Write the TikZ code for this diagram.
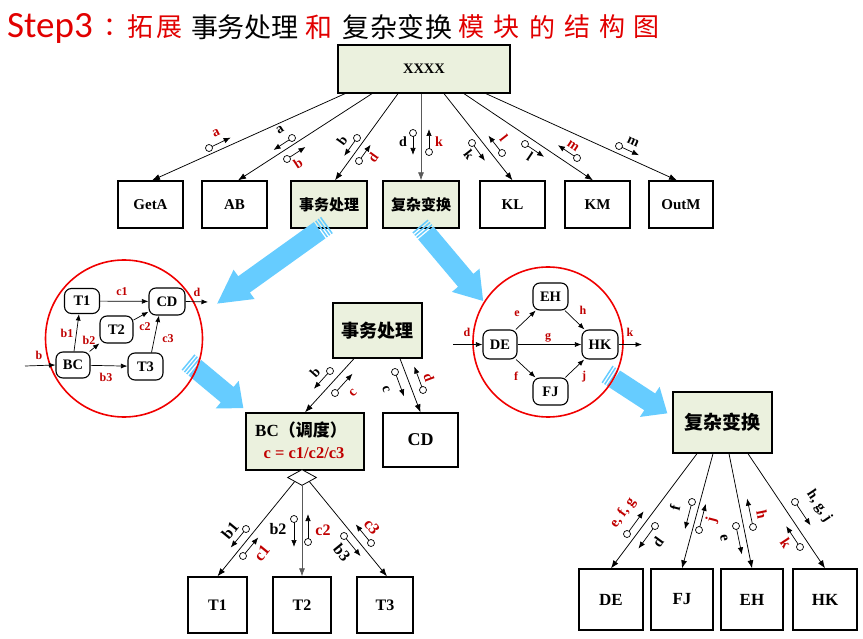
\documentclass[tikz,border=0pt]{standalone}
\usepackage{fontspec}
\setmainfont{Liberation Serif}
\newfontfamily\cjk{Noto Sans CJK SC}
\newfontfamily\stepf{Carlito}
\usetikzlibrary{arrows.meta,shapes.geometric}
\definecolor{boxgreen}{RGB}{235,241,222}
\definecolor{labred}{RGB}{192,0,0}
\definecolor{titred}{RGB}{225,0,0}
\definecolor{circred}{RGB}{240,0,0}
\definecolor{arrowblue}{RGB}{102,204,255}
\newcommand\fsz[1]{\fontsize{#1}{#1}\selectfont}
\newcommand\dcouple[4]{\draw[cplarrow] (#2) -- ++(#3:#4pt); \node[cplc] (#1) at (#2) {};}
\newcommand\bigarrow[4]{%
\begin{scope}[shift={(#1)}, rotate=#2]
\fill[arrowblue] (9pt,-10pt) -- (#3pt,-10pt) -- (#3pt,-18pt) -- ({#3pt+#4pt},0pt) -- (#3pt,18pt) -- (#3pt,10pt) -- (9pt,10pt) -- cycle;
\fill[arrowblue] (0pt,-10pt) rectangle (1.5pt,10pt);
\fill[arrowblue] (3pt,-10pt) rectangle (4.5pt,10pt);
\fill[arrowblue] (6pt,-10pt) rectangle (7.5pt,10pt);
\end{scope}}
\begin{document}
\begin{tikzpicture}[x=1pt,y=-1pt,
  box/.style={draw, line width=1.3pt, inner sep=0pt, font=\fsz{15}\bfseries},
  gbox/.style={box, fill=boxgreen},
  rbox/.style={draw, rounded corners=7pt, line width=1.1pt, inner sep=0pt, fill=white, font=\fsz{14.5}\bfseries},
  conn/.style={line width=0.75pt, -{Latex[length=8pt,width=6pt]}},
  sconn/.style={line width=0.7pt, -{Latex[length=6.5pt,width=5pt]}},
  cplarrow/.style={line width=0.7pt, -{Latex[length=7pt,width=5.5pt]}},
  cplc/.style={circle, draw, fill=white, inner sep=0pt, minimum size=7pt, line width=0.7pt},
  blab/.style={font=\fsz{14}\bfseries, text=black, inner sep=0pt},
  rlab/.style={blab, text=labred},
  bblab/.style={font=\fsz{16}\bfseries, text=black, inner sep=0pt},
  brlab/.style={bblab, text=labred},
  clab/.style={font=\fsz{12}\bfseries, text=labred, inner sep=0pt},
  redcirc/.style={circle, draw=circred, line width=1.6pt, inner sep=0pt},
]
\useasboundingbox (0,0) rectangle (863,639);

% ---------- title ----------
\node[anchor=base west, font=\stepf\fsz{37}, text=titred, inner sep=0pt] (step) at (7,38) {Step3};
\node[font=\cjk\fsz{26}, text=titred, inner sep=0pt] (colon) at (116,27) {：};
\foreach \ch/\xx/\cc/\sz [count=\i] in {拓/140/titred/26, 展/169/titred/26, 事/205/black/27, 务/231/black/27, 处/258/black/27, 理/285/black/27, 和/319/titred/27, 复/356/black/27, 杂/384/black/27, 变/411/black/27, 换/439/black/27, 模/471/titred/26, 块/506/titred/26, 的/542/titred/26, 结/577/titred/26, 构/612/titred/26, 图/646/titred/26}
  \node[font=\cjk\fsz{\sz}, text=\cc, inner sep=0pt] (tc\i) at (\xx,27) {\ch};

% ---------- top structure ----------
\node[gbox, minimum width=172, minimum height=48, font=\fsz{14.5}\bfseries] (xxxx) at (424,69) {XXXX};
\node[box, minimum width=65, minimum height=47] (geta) at (150.5,204.5) {GetA};
\node[box, minimum width=65, minimum height=47] (ab) at (234.5,204.5) {AB};
\node[gbox, minimum width=76, minimum height=47, font=\cjk\fsz{15}\bfseries] (sw1) at (329,204.5) {事务处理};
\node[gbox, minimum width=76, minimum height=47, font=\cjk\fsz{15}\bfseries] (fz1) at (421,204.5) {复杂变换};
\node[box, minimum width=65, minimum height=47] (kl) at (512.5,204.5) {KL};
\node[box, minimum width=65, minimum height=47] (km) at (597.5,204.5) {KM};
\node[box, minimum width=64, minimum height=47] (outm) at (681,204.5) {OutM};

\draw[conn] ([xshift=-79pt]xxxx.south) -- ([xshift=1.5pt]geta.north);
\draw[conn] ([xshift=-52pt]xxxx.south) -- ([xshift=3.5pt]ab.north);
\draw[conn] ([xshift=-26pt]xxxx.south) -- ([xshift=6pt]sw1.north);
\draw[conn, draw=black!65] ([xshift=-3pt]xxxx.south) -- (fz1.north);
\draw[conn] ([xshift=20pt]xxxx.south) -- (kl.north);
\draw[conn] ([xshift=40pt]xxxx.south) -- ([xshift=-4.5pt]km.north);
\draw[conn] ([xshift=62pt]xxxx.south) -- ([xshift=-4pt]outm.north);

\dcouple{k1}{209,148}{25.8}{24}
\node[rlab, rotate=25.8] (l1) at (216,133) {a};
\dcouple{k2}{292,138}{213}{22}
\node[blab, rotate=33] (l2) at (280,130) {a};
\dcouple{k3}{287,159}{33}{22}
\node[rlab, rotate=33] (l3) at (298,163) {b};
\dcouple{k4}{357,138}{234.4}{22}
\node[blab, rotate=54] (l4) at (342,141) {b};
\dcouple{k5}{359,161}{54.4}{20}
\node[rlab, rotate=54] (l5) at (373,158) {d};
\dcouple{k6}{413,133}{270}{22}
\node[blab] (l6) at (403,142) {d};
\dcouple{k7}{429,152}{90}{23}
\node[rlab] (l7) at (439,142) {k};
\dcouple{k8}{472,143}{-54}{22}
\node[blab, rotate=-52] (l8) at (469,155) {k};
\dcouple{k9}{502,153}{128}{22}
\node[rlab, rotate=-52] (l9) at (504,138) {l};
\dcouple{k10}{525,144}{-34}{23}
\node[blab, rotate=-34] (l10) at (530,157) {l};
\dcouple{k11}{577,158}{146}{23}
\node[rlab, rotate=-34] (l11) at (573,146) {m};
\dcouple{k12}{619,146}{-24.7}{22}
\node[blab, rotate=-24.7] (l12) at (633,142) {m};

% ---------- middle block ----------
\node[gbox, minimum width=89, minimum height=55, font=\cjk\fsz{18}\bfseries] (sw2) at (377.5,330.5) {事务处理};
\node[gbox, minimum width=118, minimum height=57] (bc) at (305,441.5) {};
\node[font=\fsz{17}\bfseries, inner sep=0pt] (bct) at (301,430) {BC{\cjk（调度）}};
\node[font=\fsz{16.5}\bfseries, text=labred, inner sep=0pt] (bcf) at (304,453) {c = c1/c2/c3};
\node[box, minimum width=75, minimum height=54, font=\fsz{18}\bfseries] (cd) at (420.5,440) {CD};

\draw[conn] ([xshift=-23.5pt]sw2.south) -- (bc.north);
\draw[conn] ([xshift=22.5pt]sw2.south) -- (cd.north);
\dcouple{m1}{330,371}{227.8}{24}
\node[blab, rotate=47.8] (ml1) at (315,372) {b};
\dcouple{m2}{335,393}{47.8}{26}
\node[rlab, rotate=47.8] (ml2) at (353,393) {c};
\dcouple{m3}{395,372}{-69.7}{26}
\node[blab, rotate=-69.7] (ml3) at (386,389) {c};
\dcouple{m4}{423,390}{110.3}{25}
\node[rlab, rotate=-69.7] (ml4) at (429,377) {d};

\node[diamond, draw, fill=white, line width=0.8pt, minimum width=29pt, minimum height=16pt, inner sep=0pt] (dia) at (302,477.5) {};
\node[box, minimum width=59, minimum height=56, font=\fsz{16}\bfseries] (t1) at (217.5,605) {T1};
\node[box, minimum width=58, minimum height=56, font=\fsz{16}\bfseries] (t2) at (302,605) {T2};
\node[box, minimum width=56, minimum height=56, font=\fsz{16}\bfseries] (t3) at (385,605) {T3};
\draw[conn] (dia.south west) -- (t1.north);
\draw[conn, draw=black!65] (dia.south) -- (t2.north);
\draw[conn] (dia.south east) -- ([xshift=2pt]t3.north);
\dcouple{n1}{246,529}{230.6}{24}
\node[bblab, rotate=50.6] (nl1) at (230,530) {b1};
\dcouple{n2}{243,556}{50.6}{24}
\node[brlab, rotate=50.6] (nl2) at (262,553) {c1};
\dcouple{n3}{294,519}{270}{28}
\node[bblab] (nl3) at (278,529) {b2};
\dcouple{n4}{308,542}{90}{28}
\node[brlab] (nl4) at (323,530) {c2};
\dcouple{n5}{344,536}{-50.6}{26}
\node[bblab, rotate=-50.6] (nl5) at (342,553) {b3};
\dcouple{n6}{371,543}{129.4}{24}
\node[brlab, rotate=-50.6] (nl6) at (372,527) {c3};

% ---------- right block ----------
\node[gbox, minimum width=99, minimum height=61, font=\cjk\fsz{19}\bfseries] (fz2) at (722.5,422.5) {复杂变换};
\node[box, minimum width=64, minimum height=61, font=\fsz{17}\bfseries] (de) at (611,599.5) {DE};
\node[box, minimum width=62, minimum height=61, font=\fsz{17}\bfseries] (fj) at (682,599.5) {FJ};
\node[box, minimum width=62, minimum height=61, font=\fsz{17}\bfseries] (eh) at (752,599.5) {EH};
\node[box, minimum width=64, minimum height=61, font=\fsz{17}\bfseries] (hk) at (825,599.5) {HK};
\draw[conn] ([xshift=-25.5pt]fz2.south) -- (de.north);
\draw[conn] ([xshift=-9.5pt]fz2.south) -- (fj.north);
\draw[conn] ([xshift=6.5pt]fz2.south) -- (eh.north);
\draw[conn] ([xshift=25.5pt]fz2.south) -- (hk.north);
\dcouple{p1}{627,534}{53.8}{28}
\node[font=\fsz{14.5}\bfseries, text=labred, inner sep=0pt, rotate=53.8] (pl1) at (623,513) {e, f, g};
\dcouple{p2}{655,526}{233.8}{28}
\node[font=\fsz{15}\bfseries, inner sep=0pt, rotate=53.8] (pl2) at (658,542) {d};
\dcouple{p3}{692,502}{255.5}{28}
\node[font=\fsz{15}\bfseries, inner sep=0pt, rotate=75.5] (pl3) at (675,508) {f};
\dcouple{p4}{699,530}{75.5}{27}
\node[font=\fsz{15}\bfseries, text=labred, inner sep=0pt, rotate=75.5] (pl4) at (712,520) {j};
\dcouple{p5}{736,526}{-78.3}{29}
\node[font=\fsz{15}\bfseries, inner sep=0pt, rotate=-78.3] (pl5) at (724,538) {e};
\dcouple{p6}{753,527}{101.7}{29}
\node[font=\fsz{15}\bfseries, text=labred, inner sep=0pt, rotate=-78.3] (pl6) at (762,515) {h};
\dcouple{p7}{795,502}{-56.4}{28}
\node[font=\fsz{14.5}\bfseries, inner sep=0pt, rotate=-56.4] (pl7) at (819,506) {h, g, j};
\dcouple{p8}{800,547}{123.6}{25}
\node[font=\fsz{15}\bfseries, text=labred, inner sep=0pt, rotate=-56.4] (pl8) at (786,543) {k};

% ---------- blue arrows ----------
\bigarrow{327,225}{215.6}{102}{33}
\bigarrow{420,226}{-49.9}{71}{27}
\bigarrow{188,362}{-39.8}{51}{21}
\bigarrow{607,374}{-33.1}{51}{21}

% ---------- left circle ----------
\node[redcirc, minimum size=157] (cl) at (124,338.5) {};
\node[rbox, minimum width=35, minimum height=25] (lt1) at (82,301) {T1};
\node[rbox, minimum width=36, minimum height=27] (lcd) at (167,301.5) {CD};
\node[rbox, minimum width=33, minimum height=27] (lt2) at (116.5,329.5) {T2};
\node[rbox, minimum width=34, minimum height=26] (lbc) at (73,365) {BC};
\node[rbox, minimum width=35, minimum height=27] (lt3) at (145.5,366.5) {T3};
\draw[sconn] (lt1) -- (lcd);
\draw[sconn] ([xshift=1pt]lbc.north) -- ([xshift=-3pt]lt1.south);
\draw[sconn] (lbc) -- (lt2);
\draw[sconn] (lt2) -- (lcd);
\draw[sconn] (lbc) -- (lt3);
\draw[sconn] ([xshift=6pt]lt3.north) -- ([xshift=-8pt]lcd.south);
\coordinate (lin) at (25,366);
\coordinate (lout) at (208,302);
\draw[sconn] (lin) -- (lbc.west);
\draw[sconn] (lcd.east) -- (lout);
\node[clab] (cl1) at (122,292) {c1};
\node[clab] (cl2) at (67,333) {b1};
\node[clab] (cl3) at (89,340) {b2};
\node[clab] (cl4) at (145,327) {c2};
\node[clab] (cl5) at (168,339) {c3};
\node[clab] (cl6) at (106,377) {b3};
\node[clab] (cl7) at (39,355) {b};
\node[clab] (cl8) at (197,292) {d};

% ---------- right circle ----------
\node[redcirc, minimum size=150] (cr) at (548,342) {};
\node[rbox, minimum width=35, minimum height=27] (reh) at (550.5,296.5) {EH};
\node[rbox, minimum width=34, minimum height=29] (rde) at (500,344.5) {DE};
\node[rbox, minimum width=36, minimum height=29] (rhk) at (600,344.5) {HK};
\node[rbox, minimum width=35, minimum height=27] (rfj) at (550.5,391.5) {FJ};
\draw[sconn] (rde) -- (reh);
\draw[sconn] (rde) -- (rhk);
\draw[sconn] (rde) -- (rfj);
\draw[sconn] (reh) -- (rhk);
\draw[sconn] (rfj) -- (rhk);
\coordinate (rin) at (453,344.5);
\coordinate (rout) at (642,344.5);
\draw[sconn] (rin) -- (rde.west);
\draw[sconn] (rhk.east) -- (rout);
\node[clab] (cr1) at (467,332) {d};
\node[clab] (cr2) at (630,332) {k};
\node[clab] (cr3) at (517,314) {e};
\node[clab] (cr4) at (583,310) {h};
\node[clab] (cr5) at (548,338) {g};
\node[clab] (cr6) at (516,376) {f};
\node[clab] (cr7) at (584,377) {j};
\end{tikzpicture}
\end{document}
